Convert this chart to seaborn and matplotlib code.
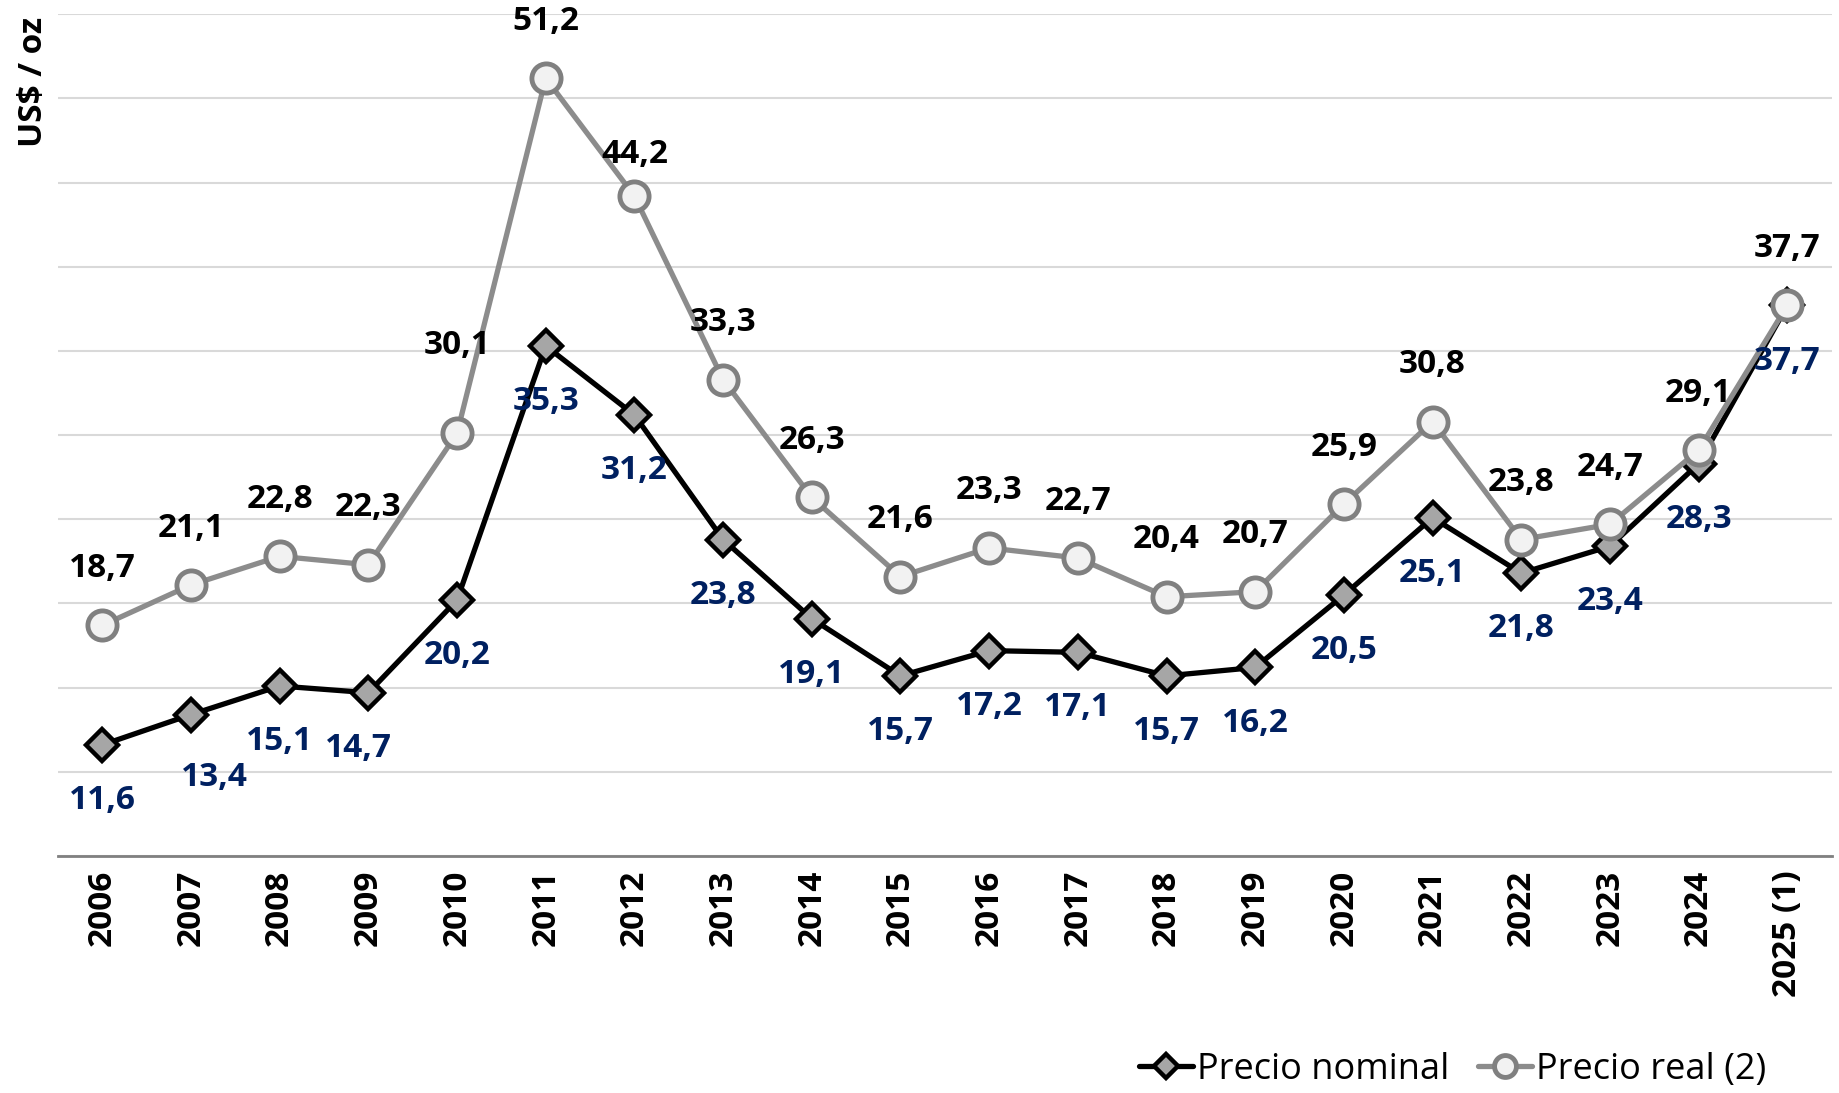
import matplotlib
matplotlib.use("Agg")
import matplotlib.pyplot as plt
import seaborn as sns
import numpy as np

# Data
years = ["2006", "2007", "2008", "2009", "2010", "2011", "2012", "2013", "2014", "2015",
         "2016", "2017", "2018", "2019", "2020", "2021", "2022", "2023", "2024", "2025 (1)"]
nominal = [11.6, 13.4, 15.1, 14.7, 20.2, 35.3, 31.2, 23.8, 19.1, 15.7,
           17.2, 17.1, 15.7, 16.2, 20.5, 25.1, 21.8, 23.4, 28.3, 37.7]
real = [18.7, 21.1, 22.8, 22.3, 30.1, 51.2, 44.2, 33.3, 26.3, 21.6,
        23.3, 22.7, 20.4, 20.7, 25.9, 30.8, 23.8, 24.7, 29.1, 37.7]

NAVY = "#002060"
GRID = "#d9d9d9"

sns.set_style("white")
plt.rcParams['font.family'] = ['Open Sans', 'DejaVu Sans']
plt.rcParams['text.color'] = 'black'
plt.rcParams['xtick.color'] = 'black'

fig = plt.figure(figsize=(18.39, 10.93), dpi=100)
ax = fig.add_axes([0.0315, 0.2168, 0.9645, 0.7702])

x = np.arange(len(years))

sns.lineplot(x=x, y=nominal, ax=ax, color="black", linewidth=3.8, marker="D",
             markersize=16, markerfacecolor="#a6a6a6", markeredgecolor="black",
             markeredgewidth=3.2, label="Precio nominal", zorder=3)
sns.lineplot(x=x, y=real, ax=ax, color="#8c8c8c", linewidth=3.8, marker="o",
             markersize=21, markerfacecolor="#f2f2f2", markeredgecolor="#808080",
             markeredgewidth=3.5, label="Precio real (2)", zorder=4)

# label offsets in points (exceptions to default)
real_off = {4: (0, 63), 6: (0, 30)}
nom_off = {1: (17, -45), 3: (-7, -40)}

for i in x:
    dx, dy = real_off.get(i, (0, 41))
    ax.annotate(f"{real[i]:.1f}".replace(".", ","), (i, real[i]), xytext=(dx, dy),
                textcoords="offset points", ha="center", va="center",
                fontsize=24, fontweight="bold", color="black", zorder=6)
    dx, dy = nom_off.get(i, (0, -40))
    ax.annotate(f"{nominal[i]:.1f}".replace(".", ","), (i, nominal[i]), xytext=(dx, dy),
                textcoords="offset points", ha="center", va="center",
                fontsize=24, fontweight="bold", color=NAVY, zorder=6)

ax.set_xlim(-0.5, len(years) - 0.5)
ax.set_ylim(5, 55)
ax.set_yticks(np.arange(5, 56, 5))
ax.set_yticklabels([])
ax.tick_params(axis="y", length=0)
ax.yaxis.grid(True, color=GRID, linewidth=1.5)
ax.set_axisbelow(True)

ax.set_xticks(x)
ax.set_xticklabels(years, rotation=90, fontsize=24, fontweight="bold", va="top")
ax.set_xticks(np.arange(-0.5, len(years), 1), minor=True)
ax.tick_params(axis="x", which="major", length=0, pad=10)
ax.tick_params(axis="x", which="minor", length=10, width=2, color="#808080")

for s in ["top", "right", "left"]:
    ax.spines[s].set_visible(False)
ax.spines["bottom"].set_color("#808080")
ax.spines["bottom"].set_linewidth(2)

fig.text(0.018, 0.985, "US$ / oz", rotation=90, ha="center", va="top",
         fontsize=24, fontweight="bold", color="black")

ax.legend(loc="center", bbox_to_anchor=(0.79, 0.021), bbox_transform=fig.transFigure,
          ncol=2, frameon=False, fontsize=26, handlelength=1.5, handletextpad=0.1,
          columnspacing=0.8, markerscale=0.75)

fig.savefig("out.png", dpi=100)
